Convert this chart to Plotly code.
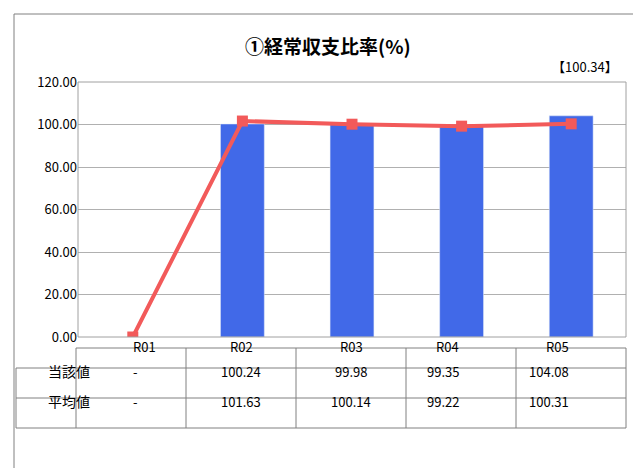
import plotly.graph_objects as go

W, H = 641, 468
FONT = "Noto Sans CJK JP"

categories = ["R01", "R02", "R03", "R04", "R05"]
current_values = [None, 100.24, 99.98, 99.35, 104.08]
average_values = [0, 101.63, 100.14, 99.22, 100.31]
current_labels = ["-", "100.24", "99.98", "99.35", "104.08"]
average_labels = ["-", "101.63", "100.14", "99.22", "100.31"]
row_labels = ["当該値", "平均値"]
y_ticks = [0, 20, 40, 60, 80, 100, 120]


def px(x):
    return x / W


def py(y):
    return 1 - y / H


fig = go.Figure()
fig.add_trace(go.Bar(x=categories, y=current_values, marker_color="#4169E8",
                     width=0.4, showlegend=False))
fig.add_trace(go.Scatter(x=categories, y=average_values, mode="lines+markers",
                         line=dict(color="#F25A5A", width=4),
                         marker=dict(symbol="square", size=11, color="#F25A5A"),
                         showlegend=False))

shapes = []
line = dict(color="#808080", width=1)
# outer frame
shapes.append(dict(type="rect", xref="paper", yref="paper", x0=px(6), x1=px(634),
                   y0=py(462), y1=py(6), line=line))
# plot frame
shapes.append(dict(type="rect", xref="paper", yref="paper", x0=px(70), x1=px(618),
                   y0=py(329), y1=py(74), line=dict(color="#A0A0A0", width=1)))
# table
cols = [68, 178, 288, 398, 508, 618]
rows = [340, 360, 390, 420]
for c in cols:
    shapes.append(dict(type="line", xref="paper", yref="paper", x0=px(c), x1=px(c),
                       y0=py(340), y1=py(420), line=line))
shapes.append(dict(type="line", xref="paper", yref="paper", x0=px(8), x1=px(8),
                   y0=py(360), y1=py(420), line=line))
for i, r in enumerate(rows):
    shapes.append(dict(type="line", xref="paper", yref="paper",
                       x0=px(68 if i == 0 else 8), x1=px(618),
                       y0=py(r), y1=py(r), line=line))

ann = []
ann.append(dict(text="<b>①経常収支比率(%)</b>", x=px(320), y=py(22), xref="paper", yref="paper",
                showarrow=False, font=dict(size=19, family=FONT, color="#000")))
ann.append(dict(text="【100.34】", x=px(612), y=py(47), xref="paper", yref="paper",
                xanchor="right", showarrow=False, font=dict(size=13, family=FONT, color="#000")))
for i, cat in enumerate(categories):
    xc = (cols[i] + cols[i + 1]) / 2
    ann.append(dict(text=cat, x=px(xc), y=py(350), xref="paper", yref="paper",
                    showarrow=False, font=dict(size=13, family=FONT, color="#000")))
    ann.append(dict(text=current_labels[i], x=px(xc), y=py(375), xref="paper", yref="paper",
                    showarrow=False, font=dict(size=13, family=FONT, color="#000")))
    ann.append(dict(text=average_labels[i], x=px(xc), y=py(405), xref="paper", yref="paper",
                    showarrow=False, font=dict(size=13, family=FONT, color="#000")))
for lab, r in zip(row_labels, [375, 405]):
    ann.append(dict(text=lab, x=px(38), y=py(r), xref="paper", yref="paper",
                    showarrow=False, font=dict(size=14, family=FONT, color="#000")))

fig.update_layout(
    width=W, height=H, margin=dict(l=0, r=0, t=0, b=0, autoexpand=False),
    paper_bgcolor="white", plot_bgcolor="white",
    shapes=shapes, annotations=ann,
    font=dict(family=FONT, color="#000"),
    xaxis=dict(domain=[px(70), px(618)], showticklabels=False, showgrid=False,
               range=[-0.5, 4.5]),
    yaxis=dict(domain=[py(329), py(74)], range=[0, 120], tickvals=y_ticks,
               ticktext=[f"{v:.2f}" for v in y_ticks], showgrid=True,
               gridcolor="#B0B0B0", tickfont=dict(size=13, family=FONT), ticks="",
               automargin=False),
)
fig.write_html("out.html")
